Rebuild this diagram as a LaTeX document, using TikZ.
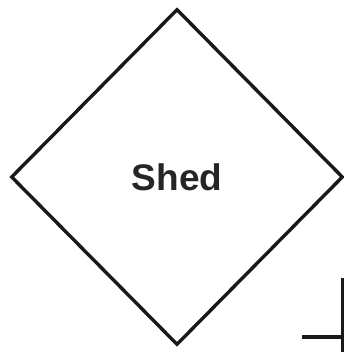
\documentclass[tikz,border=0pt]{standalone}
\usepackage{fontspec}
\setmainfont{Liberation Sans}
\usetikzlibrary{shapes.geometric}
\begin{document}
\begin{tikzpicture}[x=1pt,y=1pt,
  shedbox/.style={diamond,draw=black!90,line width=3.4pt,inner sep=0pt,
    minimum width=332pt,minimum height=336pt,
    font=\fontsize{37}{42}\selectfont\bfseries,text=black!85},
  edgeline/.style={draw=black!90,line width=3.4pt}]
\useasboundingbox (0,0) rectangle (344,352);
\node[shedbox] (shed) at (177,175) {\raisebox{-3pt}{Shed}};
\coordinate (vtop) at (342.5,74);
\coordinate (vbot) at (342.5,0);
\coordinate (hleft) at (302,15);
\coordinate (hright) at (344,15);
\draw[edgeline] (vtop) -- (vbot);
\draw[edgeline] (hleft) -- (hright);
\end{tikzpicture}
\end{document}
